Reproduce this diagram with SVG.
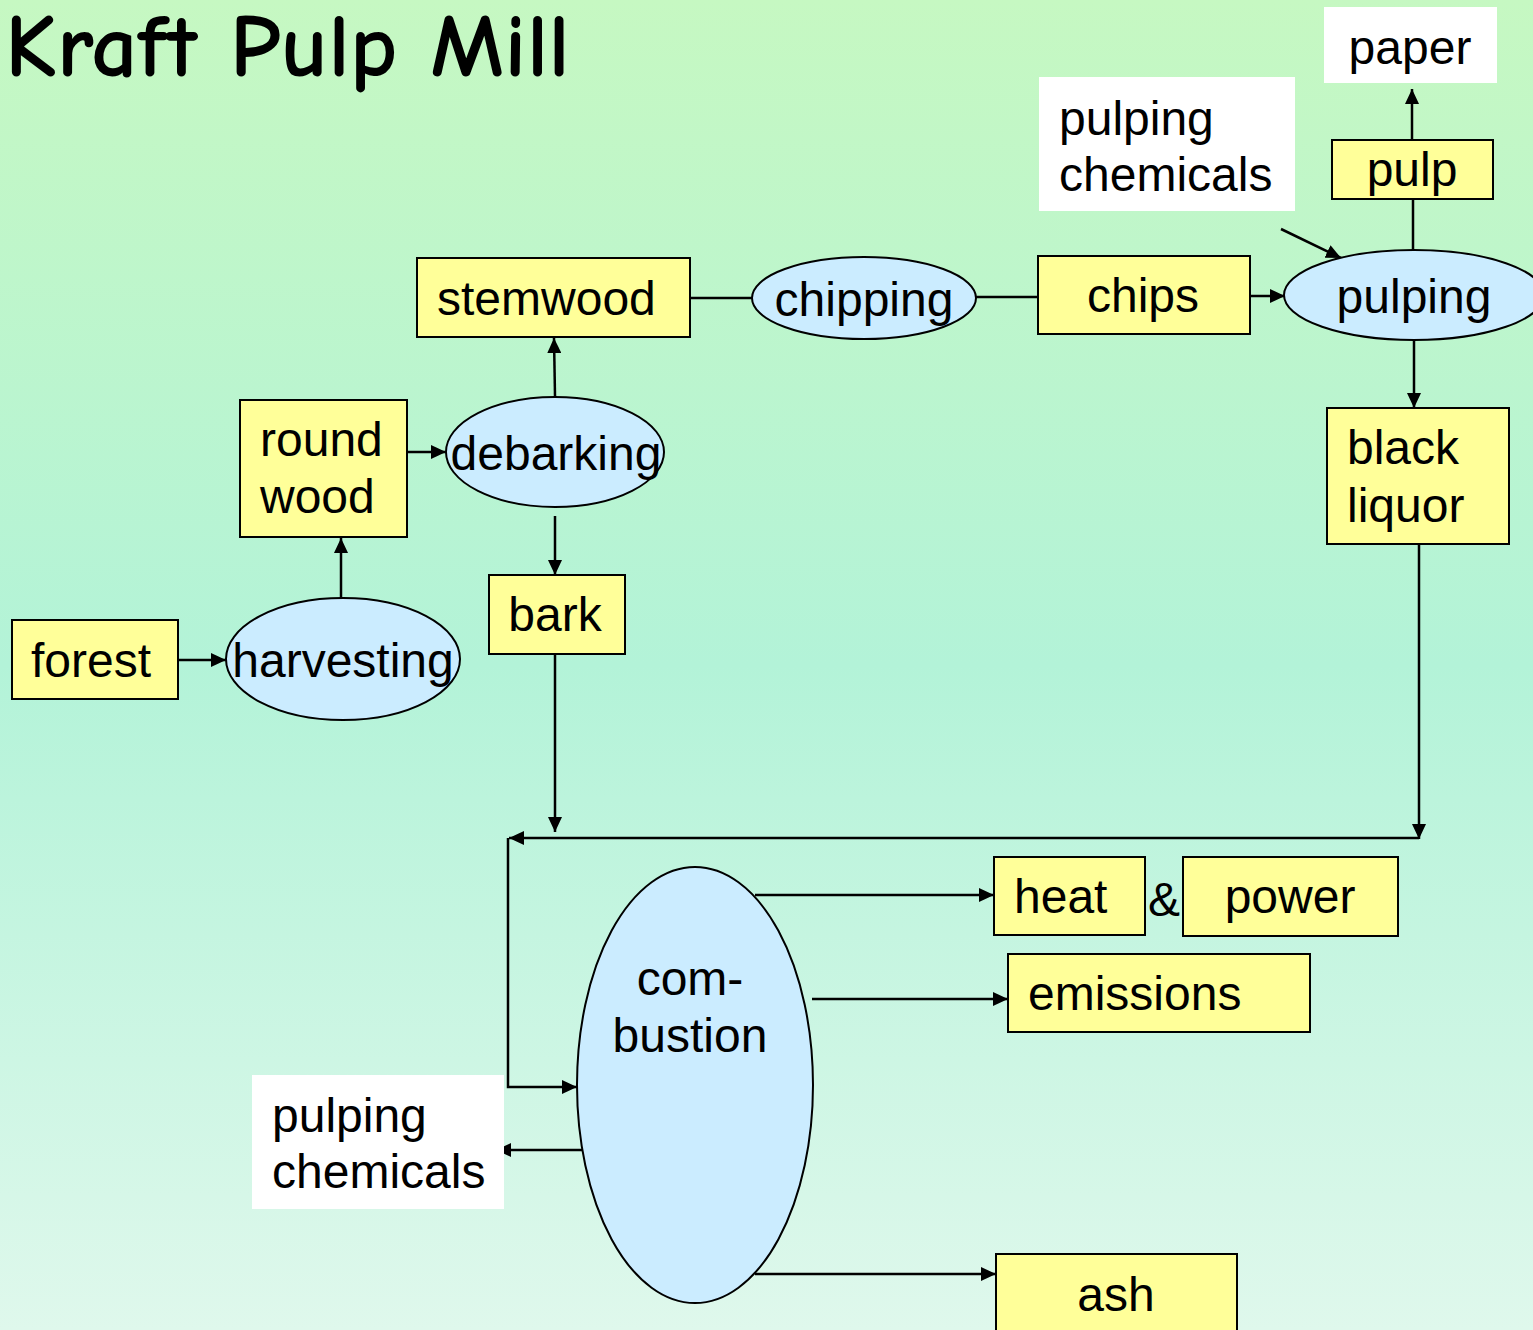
<svg xmlns="http://www.w3.org/2000/svg" width="1533" height="1330" viewBox="0 0 1533 1330">
<defs>
<linearGradient id="bg" x1="0" y1="0" x2="0" y2="1">
<stop offset="0" stop-color="#c6f8c2"/>
<stop offset="0.5" stop-color="#b3f3d8"/>
<stop offset="1" stop-color="#dff8ec"/>
</linearGradient>
<marker id="arr" markerUnits="userSpaceOnUse" markerWidth="16" markerHeight="14" refX="15" refY="7" orient="auto">
<path d="M0,0 L15,7 L0,14 Z" fill="#000"/>
</marker>
</defs>
<style>
.box{fill:#ffff99;stroke:#000;stroke-width:2}
.wbox{fill:#fff;stroke:none}
.ell{fill:#cbecff;stroke:#000;stroke-width:2}
.t{font-family:"Liberation Sans",Arial,sans-serif;font-size:48px;fill:#000}
.c{text-anchor:middle}
.ln{fill:none;stroke:#000;stroke-width:2.5}
.ar{marker-end:url(#arr)}
</style>
<rect x="0" y="0" width="1533" height="1330" fill="url(#bg)"/>
<text x="5" y="76" font-family="'Comic Sans MS','Comic Neue','DejaVu Sans',sans-serif" font-size="88" font-weight="bold" textLength="565" lengthAdjust="spacingAndGlyphs">Kraft Pulp Mill</text>

<g id="connectors">
<line class="ln ar" x1="178" y1="660" x2="226" y2="660"/>
<line class="ln ar" x1="341" y1="598" x2="341" y2="538"/>
<line class="ln ar" x1="407" y1="452" x2="446" y2="452"/>
<line class="ln ar" x1="555" y1="396" x2="554" y2="338"/>
<line class="ln ar" x1="555" y1="516" x2="555" y2="575"/>
<line class="ln" x1="690" y1="298" x2="753" y2="298"/>
<line class="ln" x1="976" y1="297" x2="1038" y2="297"/>
<line class="ln ar" x1="1250" y1="296" x2="1285" y2="296"/>
<line class="ln ar" x1="1281" y1="229" x2="1341" y2="258"/>
<line class="ln" x1="1413" y1="250" x2="1413" y2="199"/>
<line class="ln ar" x1="1412" y1="140" x2="1412" y2="89"/>
<line class="ln ar" x1="1414" y1="340" x2="1414" y2="408"/>
<line class="ln ar" x1="1419" y1="544" x2="1419" y2="839"/>
<line class="ln ar" x1="1419" y1="838" x2="509" y2="838"/>
<line class="ln ar" x1="555" y1="654" x2="555" y2="832"/>
<polyline class="ln ar" points="508,838 508,1087 577,1087"/>
<line class="ln ar" x1="586" y1="1150" x2="496" y2="1150"/>
<line class="ln ar" x1="755" y1="895" x2="994" y2="895"/>
<line class="ln ar" x1="812" y1="999" x2="1008" y2="999"/>
<line class="ln ar" x1="755" y1="1274" x2="996" y2="1274"/>
</g>

<g id="paper"><rect class="wbox" x="1324" y="7" width="173" height="76"/><text class="t c" x="1410" y="64">paper</text></g>
<g id="pulping-chemicals-top"><rect class="wbox" x="1039" y="77" width="256" height="134"/><text class="t" x="1059" y="135">pulping</text><text class="t" x="1059" y="191">chemicals</text></g>
<g id="pulp"><rect class="box" x="1332" y="140" width="161" height="59"/><text class="t c" x="1412" y="186">pulp</text></g>
<g id="pulping"><ellipse class="ell" cx="1414" cy="295" rx="130" ry="45"/><text class="t c" x="1414" y="313">pulping</text></g>
<g id="chips"><rect class="box" x="1038" y="256" width="212" height="78"/><text class="t c" x="1143" y="312">chips</text></g>
<g id="chipping"><ellipse class="ell" cx="864" cy="298" rx="112" ry="41"/><text class="t c" x="864" y="316">chipping</text></g>
<g id="stemwood"><rect class="box" x="417" y="258" width="273" height="79"/><text class="t" x="437" y="315">stemwood</text></g>
<g id="roundwood"><rect class="box" x="240" y="400" width="167" height="137"/><text class="t" x="260" y="456">round</text><text class="t" x="260" y="513">wood</text></g>
<g id="debarking"><ellipse class="ell" cx="555" cy="452" rx="109" ry="55"/><text class="t c" x="556" y="470">debarking</text></g>
<g id="bark"><rect class="box" x="489" y="575" width="136" height="79"/><text class="t c" x="555" y="631">bark</text></g>
<g id="forest"><rect class="box" x="12" y="620" width="166" height="79"/><text class="t" x="31" y="677">forest</text></g>
<g id="harvesting"><ellipse class="ell" cx="343" cy="659" rx="117" ry="61"/><text class="t c" x="343" y="677">harvesting</text></g>
<g id="blackliquor"><rect class="box" x="1327" y="408" width="182" height="136"/><text class="t" x="1347" y="464">black</text><text class="t" x="1347" y="522">liquor</text></g>
<g id="combustion"><ellipse class="ell" cx="695" cy="1085" rx="118" ry="218"/><text class="t c" x="690" y="995">com-</text><text class="t c" x="690" y="1052">bustion</text></g>
<g id="heat"><rect class="box" x="994" y="857" width="151" height="78"/><text class="t" x="1014" y="913">heat</text></g>
<g id="amp"><text class="t" x="1148" y="916">&amp;</text></g>
<g id="power"><rect class="box" x="1183" y="857" width="215" height="79"/><text class="t c" x="1290" y="913">power</text></g>
<g id="emissions"><rect class="box" x="1008" y="954" width="302" height="78"/><text class="t" x="1028" y="1010">emissions</text></g>
<g id="pulping-chemicals-bottom"><rect class="wbox" x="252" y="1075" width="252" height="134"/><text class="t" x="272" y="1132">pulping</text><text class="t" x="272" y="1188">chemicals</text></g>
<g id="ash"><rect class="box" x="996" y="1254" width="241" height="90"/><text class="t c" x="1116" y="1311">ash</text></g>
</svg>
